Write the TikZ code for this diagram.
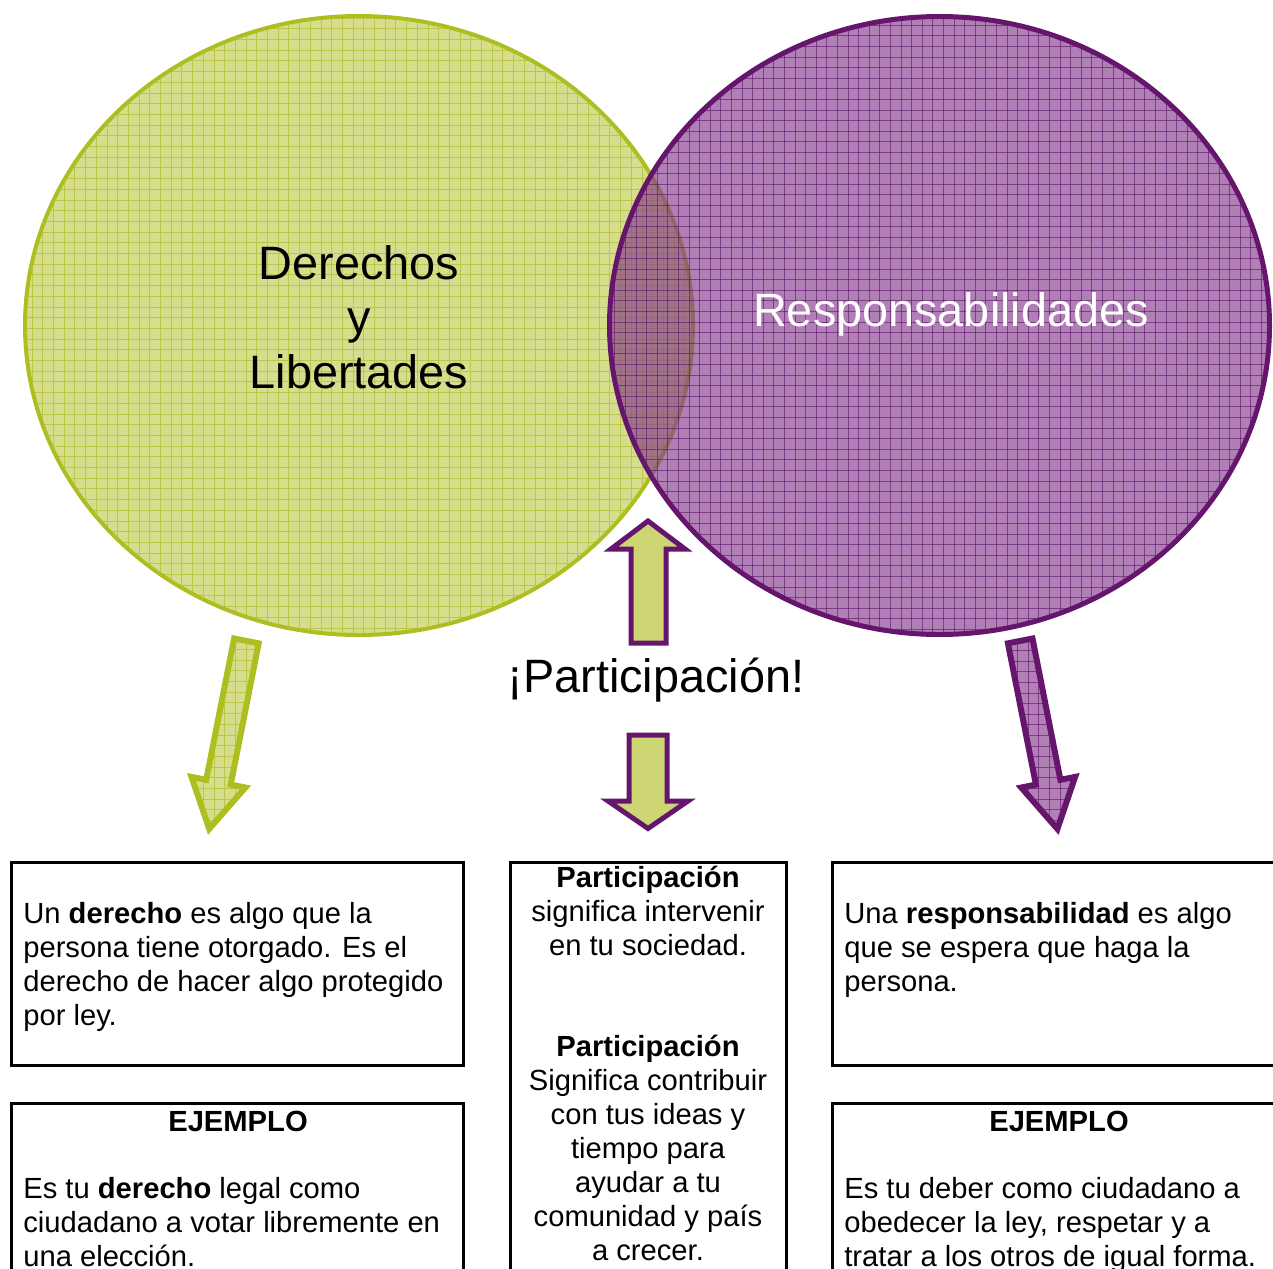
\documentclass[tikz,border=0pt]{standalone}
\usepackage{fontspec}
\setmainfont{Liberation Sans}
\newdimen\pxu \pxu=0.5669pt
\definecolor{grfill}{RGB}{214,221,140}
\definecolor{grfillb}{RGB}{206,214,116}
\definecolor{grline}{RGB}{186,199,72}
\definecolor{grdraw}{RGB}{172,190,32}
\definecolor{pufill}{RGB}{133,58,141}
\definecolor{pufillo}{RGB}{178,128,182}
\definecolor{puline}{RGB}{94,18,105}
\definecolor{pudraw}{RGB}{101,22,108}
\tikzset{
  ggrid/.style={path picture={
    \foreach \i in {0,...,120} {\draw[grline,line width=1\pxu] ({\i*10.7},0) -- ({\i*10.7},1268);}
    \foreach \j in {0,...,118} {\draw[grline,line width=1\pxu] (0,{7.4+\j*10.7}) -- (1273,{7.4+\j*10.7});}
  }},
  pgrid/.style={path picture={
    \foreach \i in {0,...,122} {\draw[puline,line width=1\pxu,draw opacity=0.6] ({\i*10.6},0) -- ({\i*10.6},1268);}
    \foreach \j in {0,...,120} {\draw[puline,line width=1\pxu,draw opacity=0.6] (0,{4+\j*10.6}) -- (1273,{4+\j*10.6});}
  }},
  bigtext/.style={font=\fontsize{26.65}{30.9}\selectfont, inner sep=0pt},
  boxtext/.style={font=\fontsize{16.6}{19.28}\selectfont, inner sep=0pt},
  boxframe/.style={draw=black, line width=3\pxu},
  midarrow/.style={draw=pudraw, line width=5\pxu, fill=grfillb, line join=miter},
}
\begin{document}
\begin{tikzpicture}[x=0.02cm,y=-0.02cm]
\useasboundingbox (0,0) rectangle (1273,1268);
\clip (0,0) rectangle (1273,1268);

% green circle
\path[fill=grfill, ggrid] (359,325.5) ellipse [x radius=334, y radius=309.5];
\draw[grdraw, line width=4\pxu] (359,325.5) ellipse [x radius=334, y radius=309.5];

% purple circle (transparent)
\path[fill=pufill, fill opacity=0.65, pgrid] (939.5,325.5) ellipse [x radius=330, y radius=309];
\draw[pudraw, line width=5\pxu] (939.5,325.5) ellipse [x radius=330, y radius=309];

% multi-line nodes: base anchor = baseline of last line
\node[bigtext, align=center, anchor=base] (der) at (359,388) {Derechos\\y\\Libertades};
\node[bigtext, text=white, anchor=base] (resp) at (951,326) {Responsabilidades};
\node[bigtext, anchor=base] (part) at (656,692) {¡Participación!};

% middle arrows
\draw[midarrow] (648,521) -- (685,549) -- (666,549) -- (666,643) -- (631,643) -- (631,549) -- (611,549) -- cycle;
\draw[midarrow] (629,735) -- (667,735) -- (667,801) -- (688,801) -- (648,828.5) -- (608,801) -- (629,801) -- cycle;

% left arrow
\draw[draw=grdraw, line width=6\pxu, fill=grfill, ggrid, line join=miter]
  (234.1,638.5) -- (258.7,643.3) -- (230.7,784.6) -- (245.4,787.5) -- (209.2,828.9) -- (191.5,776.9) -- (206.2,779.8) -- cycle;
% right arrow
\draw[draw=pudraw, line width=6\pxu, fill=pufillo, pgrid, line join=miter]
  (1032.5,638.5) -- (1007.9,643.3) -- (1035.9,784.6) -- (1021.2,787.5) -- (1057.4,828.9) -- (1075.1,776.9) -- (1060.4,779.8) -- cycle;

% boxes
\draw[boxframe] (11.5,862.5) rectangle (463.5,1065.5);
\draw[boxframe] (11.5,1103.5) rectangle (463.5,1300);
\draw[boxframe] (510.5,862.5) rectangle (786.5,1300);
\draw[boxframe] (832.5,862.5) rectangle (1300,1065.5);
\draw[boxframe] (832.5,1103.5) rectangle (1300,1300);

\node[boxtext, align=left, anchor=base west] (ta) at (23,1025) {Un \textbf{derecho} es algo que la\\persona tiene otorgado. Es el\\derecho de hacer algo protegido\\por ley.};
\node[boxtext, anchor=base] (eja) at (238,1131) {\textbf{EJEMPLO}};
\node[boxtext, align=left, anchor=base west] (tb) at (23,1266) {Es tu \textbf{derecho} legal como\\ciudadano a votar libremente en\\una elección.};

\node[boxtext, align=center, anchor=base] (tc1) at (648,955) {\textbf{Participación}\\significa intervenir\\en tu sociedad.};
\node[boxtext, align=center, anchor=base] (tc2) at (648,1260) {\textbf{Participación}\\Significa contribuir\\con tus ideas y\\tiempo para\\ayudar a tu\\comunidad y país\\a crecer.};

\node[boxtext, align=left, anchor=base west] (td) at (844,991) {Una \textbf{responsabilidad} es algo\\que se espera que haga la\\persona.};
\node[boxtext, anchor=base] (ejb) at (1059,1131) {\textbf{EJEMPLO}};
\node[boxtext, align=left, anchor=base west] (te) at (844,1266) {Es tu deber como ciudadano a\\obedecer la ley, respetar y a\\tratar a los otros de igual forma.};
\end{tikzpicture}
\end{document}
